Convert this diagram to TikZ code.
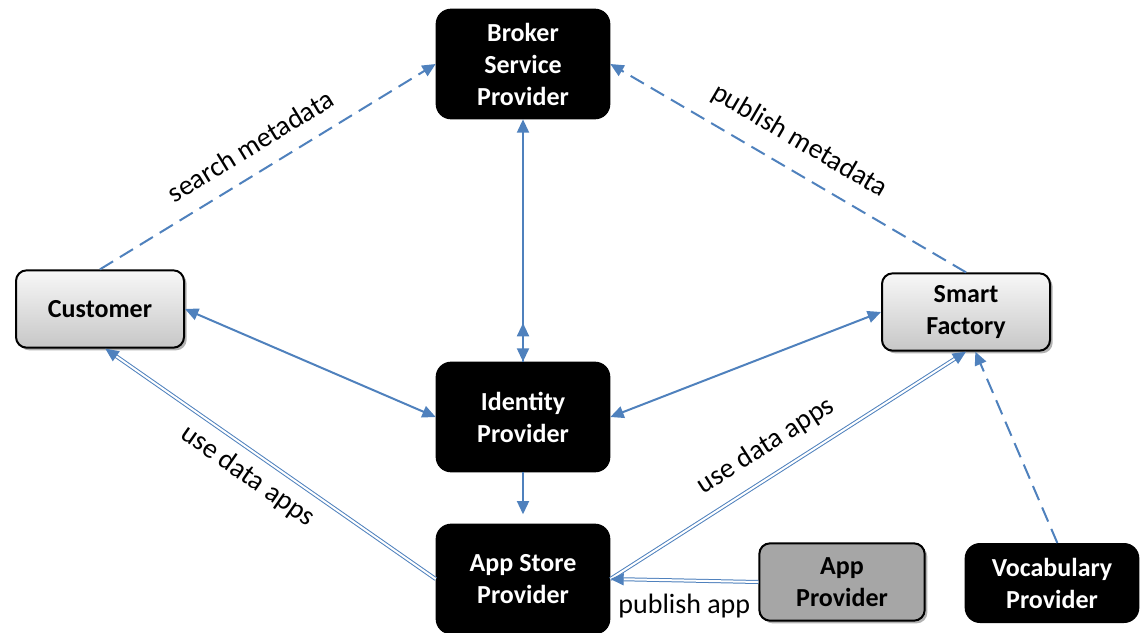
\documentclass[tikz,border=0pt]{standalone}
\usepackage{fontspec}
\setmainfont{Carlito}
\usetikzlibrary{arrows.meta,shadows,calc}
\definecolor{lblue}{HTML}{4F81BD}
\begin{document}
\begin{tikzpicture}[x=0.75pt,y=-0.75pt,
  nfont/.style={font=\fontsize{19.5}{24}\selectfont\bfseries},
  blk/.style={nfont, draw=black, fill=black, text=white, rounded corners=11pt, line width=1pt,
    minimum width=130pt, minimum height=82pt, align=center, inner sep=0pt},
  gry/.style={nfont, draw=black, rounded corners=8pt, line width=1.5pt,
    minimum width=126pt, minimum height=58pt, align=center, inner sep=0pt,
    top color=black!3, bottom color=black!22,
    drop shadow={shadow xshift=2pt, shadow yshift=-2pt, fill=black!60, opacity=0.5}},
  conn/.style={draw=lblue, line width=1.5pt},
  dashc/.style={conn, dash pattern=on 11.5pt off 6pt},
  dbl/.style={draw=lblue, line width=0.75pt, double=white, double distance=1.5pt},
  tip/.style={-{Triangle[length=10pt,width=9pt]}},
  both/.style={{Triangle[length=10pt,width=9pt]}-{Triangle[length=10pt,width=9pt]}},
  lbl/.style={font=\fontsize{21}{25}\selectfont, text=black, inner sep=2pt}
]
\useasboundingbox (0,0) rectangle (1145,632);

\node[blk] (broker) at (523,64) {Broker\\Service\\Provider};
\node[blk] (idp) at (523,417) {Identity\\Provider};
\node[blk] (asp) at (523,579) {App Store\\Provider};
\node[gry] (cust) at (100,309) {Customer};
\node[gry] (sf) at (966,312) {Smart\\Factory};
\node[gry, top color=black!35, bottom color=black!35, minimum width=124pt] (ap) at (842,582) {App\\Provider};
\node[blk, minimum height=59pt] (voc) at (1052,583) {Vocabulary\\Provider};

\coordinate (upt) at (523,323);

\draw[dashc, tip] (cust.north) -- (broker.west)
  node[lbl, pos=.49, sloped, above=10pt] {search metadata};
\draw[dashc, tip] (sf.north) -- (broker.east)
  node[lbl, pos=.51, sloped, above=10pt] {publish metadata};
\draw[conn, both] (broker.south) -- (idp.north);
\draw[conn, tip] (idp.north) -- (upt);
\draw[conn, both] (cust.east) -- (idp.west);
\draw[conn, both] (sf.west) -- (idp.east);
\draw[conn, tip, shorten >=7pt] (idp.south) -- (asp.north);
\draw[dbl, tip] (asp.west) -- ([xshift=4pt]cust.south)
  node[lbl, pos=.53, sloped, below=6pt] {use data apps};
\draw[dbl, tip] (asp.east) -- (sf.south)
  node[lbl, pos=.48, sloped, above=10pt] {use data apps};
\draw[dbl, tip] (ap.west) -- (asp.east)
  node[lbl, midway, below=8pt] {publish app};
\draw[dashc, tip] ([xshift=4pt]voc.north) -- ([xshift=7pt]sf.south);
\end{tikzpicture}
\end{document}
